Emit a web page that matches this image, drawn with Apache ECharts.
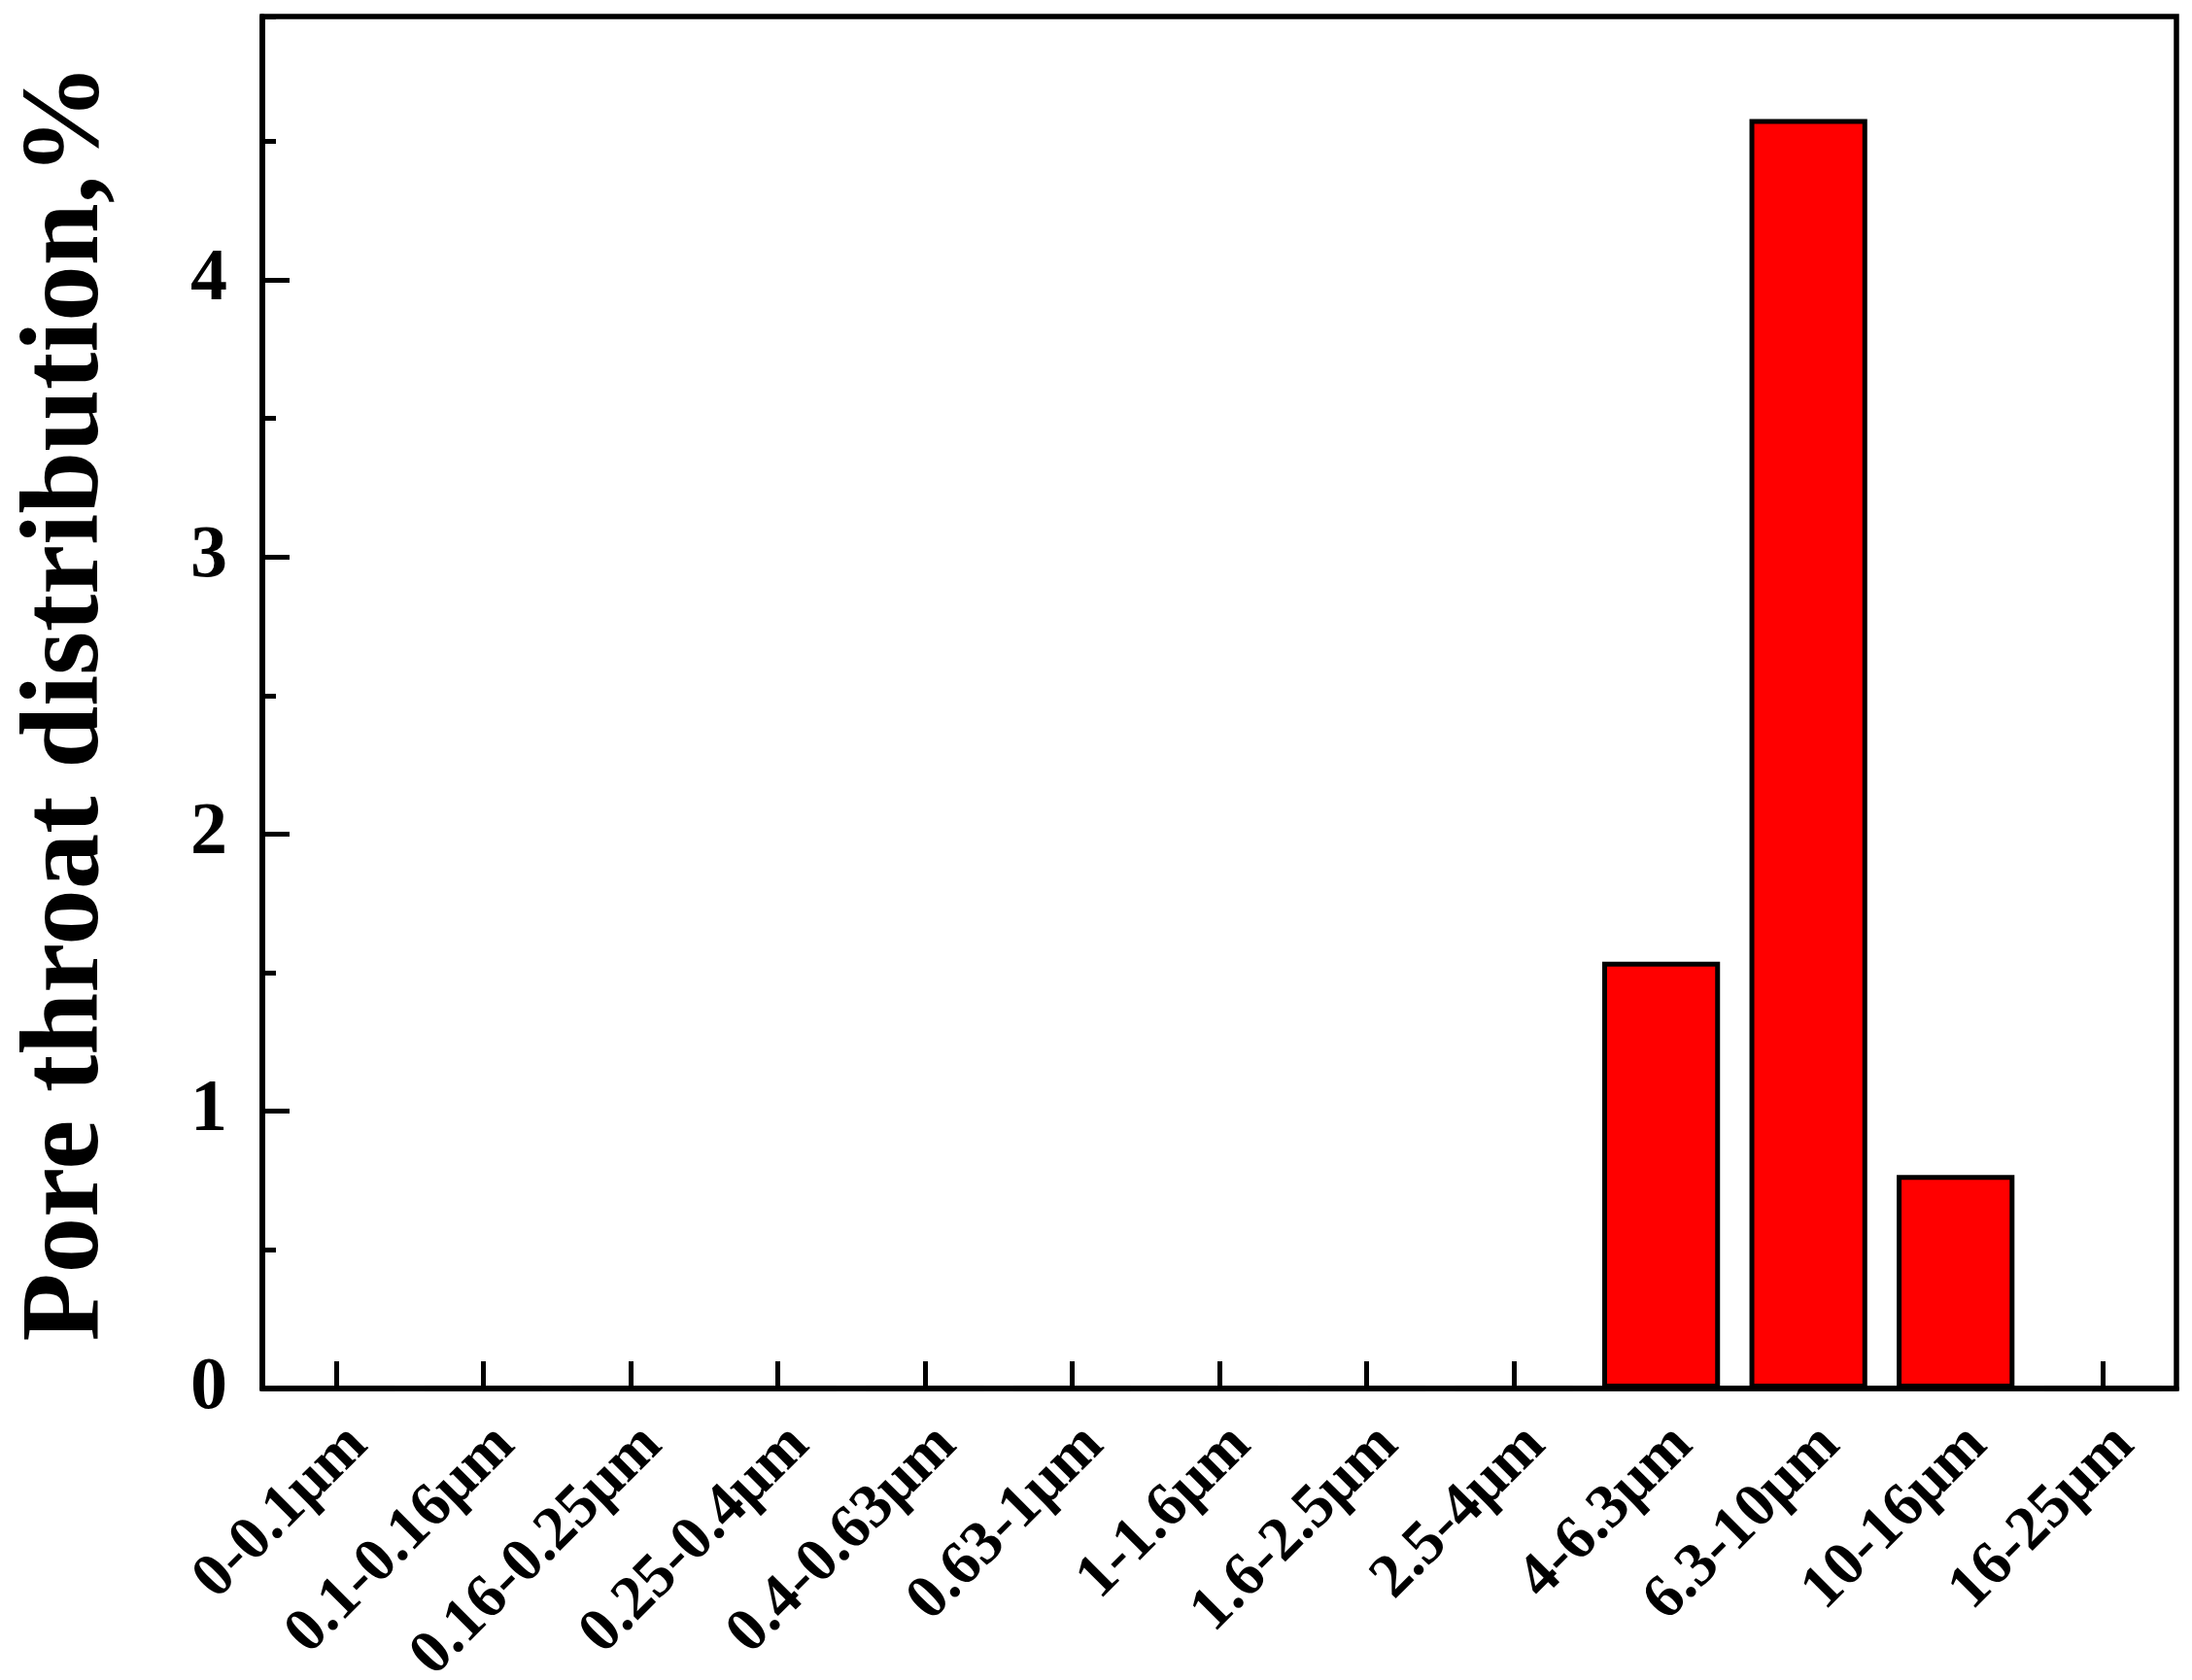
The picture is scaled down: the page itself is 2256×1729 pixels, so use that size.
<!DOCTYPE html>
<html>
<head>
<meta charset="utf-8">
<script src="https://cdn.jsdelivr.net/npm/echarts@6/dist/echarts.min.js"></script>
<style>
html,body{margin:0;padding:0;background:#fff;}
#chart{width:2256px;height:1729px;}
</style>
</head>
<body>
<div id="chart"></div>
<script>
const categories = ['0-0.1μm','0.1-0.16μm','0.16-0.25μm','0.25-0.4μm','0.4-0.63μm','0.63-1μm','1-1.6μm','1.6-2.5μm','2.5-4μm','4-6.3μm','6.3-10μm','10-16μm','16-25μm'];
const values = [0,0,0,0,0,0,0,0,0,1.54,4.58,0.77,0];
const yTitle = 'Pore throat distribution,%';
const yMin = 0, yMax = 4.95, yMajor = 1, yMinor = 0.5;

const font = '"Liberation Serif", "Times New Roman", serif';
const chart = echarts.init(document.getElementById('chart'), null, {renderer:'canvas'});
chart.setOption({
  animation:false,
  backgroundColor:'#fff',
  grid:{left:270,right:16,top:17,bottom:300,outerBoundsMode:'none',containLabel:false,show:true,borderColor:'#000',borderWidth:5.5,backgroundColor:'transparent'},
  xAxis:{
    type:'category',
    data:categories,
    boundaryGap:true,
    axisLine:{lineStyle:{color:'#000',width:5.5}},
    axisTick:{show:true,alignWithLabel:true,inside:true,length:28,lineStyle:{color:'#000',width:5}},
    axisLabel:{interval:0,rotate:45,margin:26,verticalAlign:'top',padding:[0,0,0,0],color:'#000',fontSize:64,fontWeight:'bold',fontFamily:font},
    splitLine:{show:false}
  },
  yAxis:[{
    type:'value',
    min:yMin,max:yMax,interval:yMajor,
    position:'left',
    name:yTitle,
    nameLocation:'middle',
    nameGap:142,
    nameTextStyle:{color:'#000',fontSize:115,fontWeight:'bold',fontFamily:font},
    axisLine:{show:true,lineStyle:{color:'#000',width:5.5}},
    axisTick:{show:true,inside:true,length:28,lineStyle:{color:'#000',width:5}},
    axisLabel:{showMaxLabel:false,margin:36,color:'#000',fontSize:76,fontWeight:'bold',fontFamily:font},
    splitLine:{show:false}
  },{
    type:'value',
    min:yMin,max:yMax,interval:yMinor,
    position:'left',
    axisLine:{show:false},
    axisTick:{show:true,inside:true,length:14,lineStyle:{color:'#000',width:5}},
    axisLabel:{show:false},
    splitLine:{show:false}
  }],
  series:[{
    type:'bar',
    data:values,
    barWidth:'80%',
    itemStyle:{color:'#ff0000',borderColor:'#000',borderWidth:5}
  }]
});
</script>
</body>
</html>
